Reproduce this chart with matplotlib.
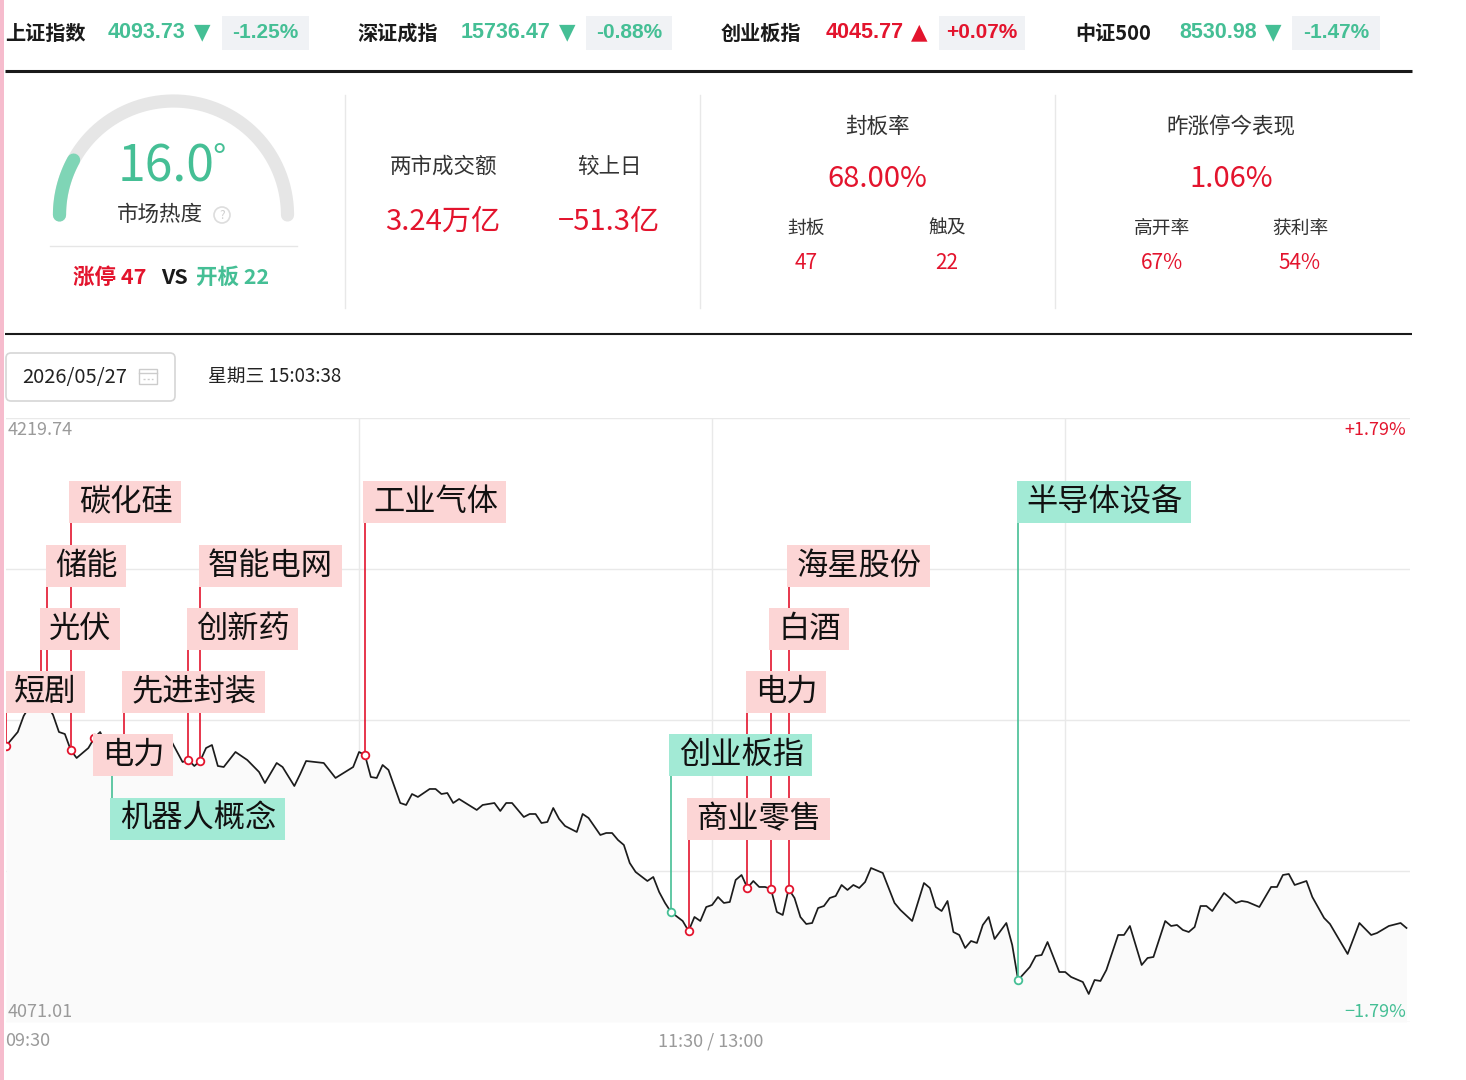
import numpy as np
import matplotlib
matplotlib.use('Agg')
import matplotlib.pyplot as plt
from matplotlib.patches import Rectangle, FancyBboxPatch, Circle

plt.rcParams['font.family'] = ['Noto Sans CJK SC', 'DejaVu Sans']
plt.rcParams['axes.unicode_minus'] = False

NUMFONT = ['Liberation Sans', 'Noto Sans CJK SC']

RED = '#e3142d'
GREEN = '#45bf95'
DARK = '#333333'
GRAY = '#9a9a9a'
PINK = '#fcd5d5'
TEAL = '#a2ead5'

# ---- index ticker
idx_names = ['上证指数', '深证成指', '创业板指', '中证500']
idx_values = [4093.73, 15736.47, 4045.77, 8530.98]
idx_changes = [-1.25, -0.88, 0.07, -1.47]

# ---- summary panels
heat = 16.0
limit_up = 47
opened = 22
turnover = '3.24万亿'
turnover_diff = '−51.3亿'
seal_rate = 68.00
seal_count = 47
touch_count = 22
yest_perf = 1.06
high_open = 67
profit_rate = 54
date_str = '2026/05/27'
time_str = '星期三 15:03:38'

# ---- intraday (minutes after 09:30, trading time)
prev_close = 4145.375
y_hi = 4219.74
y_lo = 4071.01
minutes = [
    0, 2, 3, 4, 5, 6, 7, 8, 9, 10,
    11, 12, 13, 14, 15, 16, 17, 18, 19, 20,
    21, 23, 25, 26, 27, 28, 30, 31, 32, 33,
    34, 35, 36, 37, 39, 41, 43, 44, 46, 47,
    49, 50, 51, 54, 56, 59, 60, 61, 62, 63,
    64, 65, 67, 68, 69, 70, 72, 73, 74, 75,
    76, 77, 80, 81, 83, 84, 85, 86, 88, 89,
    90, 91, 92, 93, 94, 95, 97, 98, 99, 101,
    102, 103, 104, 105, 106, 107, 109, 110, 111, 112,
    113, 115, 116, 117, 118, 119, 120, 121, 122, 123,
    124, 125, 126, 127, 128, 129, 130, 131, 132, 133,
    134, 135, 136, 137, 138, 139, 140, 141, 142, 143,
    144, 145, 146, 147, 149, 151, 152, 154, 156, 157,
    158, 159, 160, 161, 162, 163, 164, 165, 166, 167,
    168, 170, 171, 172, 174, 175, 176, 177, 178, 179,
    180, 181, 183, 184, 185, 186, 187, 189, 190, 191,
    193, 194, 195, 197, 198, 199, 200, 201, 202, 203,
    204, 205, 207, 209, 210, 211, 213, 215, 216, 217,
    218, 219, 221, 222, 224, 225, 228, 230, 232, 233,
    235, 237, 238]
prices = [
    4138.97, 4142.42, 4146.36, 4148.82, 4150.30, 4149.81, 4149.07, 4146.61, 4142.42, 4141.93,
    4137.99, 4136.02, 4137.25, 4138.48, 4140.94, 4142.42, 4139.22, 4137.50, 4138.48, 4136.51,
    4135.04, 4137.50, 4136.02, 4138.48, 4139.96, 4140.45, 4135.04, 4135.53, 4134.05, 4135.28,
    4138.48, 4139.22, 4134.05, 4133.80, 4137.50, 4135.53, 4132.58, 4129.86, 4134.79, 4133.80,
    4129.12, 4132.08, 4135.28, 4134.79, 4131.10, 4133.80, 4137.50, 4136.76, 4131.34, 4131.10,
    4134.30, 4133.07, 4124.94, 4124.45, 4127.15, 4126.42, 4128.39, 4128.39, 4127.15, 4127.40,
    4124.94, 4125.92, 4123.22, 4124.45, 4124.94, 4122.97, 4124.94, 4124.94, 4121.49, 4122.23,
    4122.23, 4120.01, 4120.26, 4123.71, 4121.00, 4119.28, 4117.80, 4122.23, 4121.25, 4117.06,
    4117.55, 4117.55, 4115.83, 4114.60, 4110.16, 4107.95, 4105.73, 4106.72, 4103.02, 4100.32,
    4098.10, 4095.88, 4093.42, 4096.87, 4095.88, 4099.33, 4099.82, 4101.79, 4100.32, 4100.56,
    4105.98, 4107.21, 4104.01, 4105.73, 4104.26, 4104.26, 4103.76, 4098.10, 4097.36, 4103.76,
    4101.55, 4096.87, 4095.14, 4095.39, 4099.08, 4099.57, 4101.55, 4102.04, 4104.75, 4103.52,
    4104.75, 4104.01, 4105.49, 4108.93, 4107.71, 4100.32, 4098.59, 4095.88, 4105.24, 4104.01,
    4099.33, 4098.34, 4100.81, 4093.17, 4092.44, 4089.23, 4090.96, 4090.47, 4094.90, 4096.87,
    4091.45, 4095.39, 4089.97, 4081.35, 4084.56, 4087.26, 4087.51, 4090.71, 4087.02, 4083.32,
    4083.32, 4082.10, 4080.86, 4077.91, 4081.35, 4081.11, 4083.82, 4092.44, 4092.44, 4094.65,
    4085.05, 4086.77, 4087.02, 4095.88, 4094.65, 4094.90, 4093.67, 4093.17, 4094.41, 4099.57,
    4099.57, 4098.34, 4102.78, 4100.32, 4100.81, 4100.56, 4099.33, 4104.26, 4104.26, 4107.21,
    4107.46, 4104.75, 4105.73, 4101.79, 4096.62, 4095.14, 4087.76, 4095.39, 4092.44, 4092.93,
    4094.65, 4095.39, 4094.16]

event_names = ['短剧', '光伏', '储能', '碳化硅', '电力', '机器人概念', '先进封装', '创新药',
               '智能电网', '工业气体', '创业板指', '商业零售', '电力', '白酒', '海星股份', '半导体设备']
event_minutes = [0, 6, 7, 11, 15, 18, 20, 31, 33, 61, 113, 116, 126, 130, 133, 172]
event_rows = [4, 3, 2, 1, 5, 6, 4, 3, 2, 1, 5, 6, 4, 3, 2, 1]
event_green = [False, False, False, False, False, True, False, False,
               False, False, True, False, False, False, False, True]

W, H = 1466, 1080
fig = plt.figure(figsize=(W / 100, H / 100), dpi=100)
fig.patch.set_facecolor('white')
bg = fig.add_axes([0, 0, 1, 1])
bg.set_xlim(0, W)
bg.set_ylim(H, 0)
bg.axis('off')
bg.set_zorder(2)

# pink left edge of the screenshot
bg.add_patch(Rectangle((0, 0), 3.5, H, fc='#f6bccd', ec='none'))

# ---- ticker row
name_x = [5, 357, 721, 1075]
val_x = [108, 461, 826, 1179]
tri_x = [202, 567, 919, 1273]
box_x = [222, 586, 939, 1292]
box_w = [87, 86, 86, 88]
for i, name in enumerate(idx_names):
    c = RED if idx_changes[i] > 0 else GREEN
    bg.text(name_x[i], 33, name, fontsize=14.5, fontweight='bold', color='#1a1a1a',
            ha='left', va='center')
    bg.text(val_x[i], 33, f'{idx_values[i]:.2f}', fontsize=15.5, fontweight='bold',
            color=c, ha='left', va='center', family=NUMFONT)
    bg.text(tri_x[i], 32, '▲' if idx_changes[i] > 0 else '▼', fontsize=15.5, color=c,
            ha='center', va='center', family='DejaVu Sans')
    bg.add_patch(Rectangle((box_x[i], 16), box_w[i], 34, fc='#f0f2f5', ec='none'))
    bg.text(box_x[i] + box_w[i] / 2, 33, f'{idx_changes[i]:+.2f}%', fontsize=15,
            fontweight='bold', color=c, ha='center', va='center', family=NUMFONT)
bg.plot([5, 1412], [71, 71], color='#1a1a1a', lw=2.2, solid_capstyle='butt')
bg.plot([5, 1412], [334, 334], color='#1a1a1a', lw=1.5, solid_capstyle='butt')

# ---- gauge
cx, cy, r = 173.5, 215, 114
t = np.linspace(np.pi, 0, 200)
bg.plot(cx + r * np.cos(t), cy - r * np.sin(t), color='#e6e6e6', lw=9.5, solid_capstyle='round')
t = np.linspace(np.pi, np.pi - np.pi * heat / 100, 50)
bg.plot(cx + r * np.cos(t), cy - r * np.sin(t), color='#7fd5b6', lw=9.5, solid_capstyle='round')
bg.text(166, 167, f'{heat:.1f}', fontsize=36, color=GREEN, ha='center', va='center',
        fontweight='light')
bg.text(219, 160, '°', fontsize=26, color=GREEN, ha='center', va='center')
bg.text(160, 215, '市场热度', fontsize=15.5, color=DARK, ha='center', va='center')
bg.add_patch(Circle((222, 215), 8, fill=False, ec='#dddddd', lw=1.2))
bg.text(222, 215.5, '?', fontsize=8.5, color='#cfcfcf', ha='center', va='center')
bg.plot([50, 297], [246, 246], color='#e6e6e6', lw=1)
bg.text(73, 277, f'涨停 {limit_up}', fontsize=15.5, fontweight='bold', color=RED, ha='left', va='center')
bg.text(174, 277, 'VS', fontsize=15.5, fontweight='bold', color='#1a1a1a', ha='center', va='center')
bg.text(196, 277, f'开板 {opened}', fontsize=15.5, fontweight='bold', color=GREEN, ha='left', va='center')

for x in [345, 700, 1055]:
    bg.plot([x, x], [95, 308], color='#e8e8e8', lw=1)

# ---- turnover panel
bg.text(443, 167, '两市成交额', fontsize=15.5, color=DARK, ha='center', va='center')
bg.text(609, 167, '较上日', fontsize=15.5, color=DARK, ha='center', va='center')
bg.text(443, 222, turnover, fontsize=21, color=RED, ha='center', va='center')
bg.text(609, 222, turnover_diff, fontsize=21, color=RED, ha='center', va='center')

# ---- seal rate panel
bg.text(877, 127, '封板率', fontsize=15.5, color=DARK, ha='center', va='center')
bg.text(877, 179, f'{seal_rate:.2f}%', fontsize=21, color=RED, ha='center', va='center')
bg.text(806, 228, '封板', fontsize=13.5, color=DARK, ha='center', va='center')
bg.text(947, 228, '触及', fontsize=13.5, color=DARK, ha='center', va='center')
bg.text(806, 263, f'{seal_count}', fontsize=15, color=RED, ha='center', va='center')
bg.text(947, 263, f'{touch_count}', fontsize=15, color=RED, ha='center', va='center')

# ---- yesterday limit-up panel
bg.text(1231, 127, '昨涨停今表现', fontsize=15.5, color=DARK, ha='center', va='center')
bg.text(1231, 179, f'{yest_perf:.2f}%', fontsize=21, color=RED, ha='center', va='center')
bg.text(1162, 228, '高开率', fontsize=13.5, color=DARK, ha='center', va='center')
bg.text(1300, 228, '获利率', fontsize=13.5, color=DARK, ha='center', va='center')
bg.text(1162, 263, f'{high_open}%', fontsize=15, color=RED, ha='center', va='center')
bg.text(1300, 263, f'{profit_rate}%', fontsize=15, color=RED, ha='center', va='center')

# ---- date selector
bg.add_patch(FancyBboxPatch((6, 353), 169, 48, boxstyle='round,pad=0,rounding_size=5',
                            fc='white', ec='#d6d6d6', lw=1.2))
bg.text(22, 377, date_str, fontsize=14.5, color='#222222', ha='left', va='center')
bg.add_patch(Rectangle((139, 369), 18, 15, fill=False, ec='#cccccc', lw=1))
bg.plot([139, 157], [373, 373], color='#cccccc', lw=1)
bg.plot([143, 153], [378.5, 378.5], color='#cccccc', lw=1, ls=(0, (1.5, 1.5)))
bg.text(208, 376, time_str, fontsize=13.5, color='#222222', ha='left', va='center')

# ---- intraday chart
x0, x1, ytop, ybot = 6, 1410, 418, 1022
ax = fig.add_axes([x0 / W, (H - ybot) / H, (x1 - x0) / W, (ybot - ytop) / H])
ax.set_zorder(1)
ax.patch.set_alpha(0)
ax.set_xlim(0, 238.6)
ax.set_ylim(y_lo, y_hi)
ax.axis('off')
pxm = (x1 - x0) / 238.6            # px per minute
pxp = (ybot - ytop) / (y_hi - y_lo)  # px per point

for yv in np.linspace(y_lo, y_hi, 5):
    ax.axhline(yv, color='#e9e9e9', lw=1, zorder=0)
for mv in [60, 120, 180]:
    ax.axvline(mv, color='#e9e9e9', lw=1, zorder=0)

ax.fill_between(minutes, prices, y_lo, color='#fafafa', zorder=1, lw=0)
ax.plot(minutes, prices, color='#1c1c1c', lw=1.25, zorder=3)

price_at = dict(zip(minutes, prices))
row_px = {1: 502, 2: 566, 3: 629, 4: 692, 5: 755, 6: 819}
half_h = 21 / pxp
for name, m, row, grn in zip(event_names, event_minutes, event_rows, event_green):
    c = GREEN if grn else RED
    fc = TEAL if grn else PINK
    p = price_at[m]
    yc = y_lo + (ybot - row_px[row]) / pxp
    if p < yc - half_h:
        ax.plot([m, m], [p, yc - half_h], color=c, lw=1.2, zorder=4)
    elif p > yc + half_h:
        ax.plot([m, m], [yc + half_h, p], color=c, lw=1.2, zorder=4)
    ax.plot(m, p, 'o', ms=5.5, mfc='white', mec=c, mew=1.3, zorder=5)
    bw = len(name) * 31.5 + 17
    ax.add_patch(Rectangle((m - 1.5 / pxm, yc - half_h), bw / pxm, 2 * half_h,
                           fc=fc, ec='none', zorder=6))
    ax.text(m + 8 / pxm, yc, name, fontsize=22.5, color='#111111', ha='left',
            va='center', zorder=7)

up_pct = (y_hi / prev_close - 1) * 100
dn_pct = (y_lo / prev_close - 1) * 100
bg.text(8, 430, f'{y_hi:.2f}', fontsize=13, color=GRAY, ha='left', va='center')
bg.text(8, 1012, f'{y_lo:.2f}', fontsize=13, color=GRAY, ha='left', va='center')
bg.text(1406, 430, f'+{up_pct:.2f}%', fontsize=13, color=RED, ha='right', va='center')
bg.text(1406, 1012, f'−{abs(dn_pct):.2f}%', fontsize=13, color=GREEN, ha='right', va='center')
bg.text(5, 1041, '09:30', fontsize=13, color=GRAY, ha='left', va='center')
bg.text(711, 1041, '11:30 / 13:00', fontsize=13, color=GRAY, ha='center', va='center')

fig.savefig('out.png', dpi=100, facecolor='white')
